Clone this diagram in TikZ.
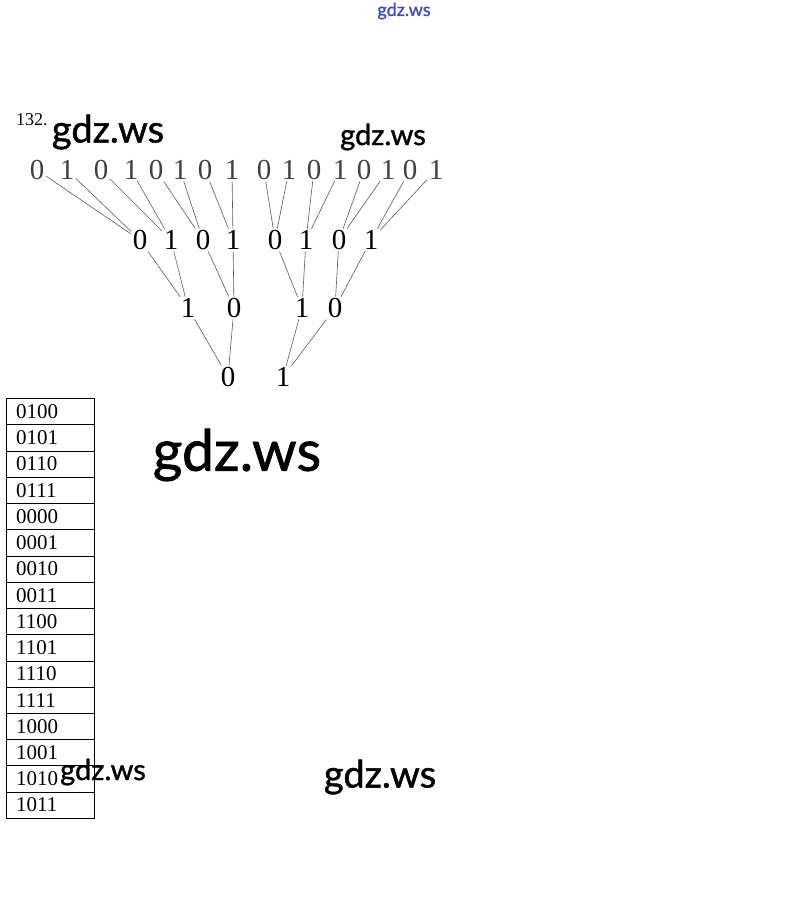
\documentclass[tikz,border=0pt]{standalone}
\usepackage{fontspec}
\newfontfamily\wmfont[FakeBold=1.2]{Lato}
\newfontfamily\digitfont{Liberation Serif}
\usetikzlibrary{shapes,positioning}
\definecolor{wmblue}{RGB}{70,70,205}
\tikzset{
digit/.style = {inner sep=1.5pt, font=\digitfont\fontsize{29}{29}\selectfont},
topdigit/.style = {inner sep=1.5pt, text=black!75, font=\digitfont\fontsize{29}{29}\selectfont},
link/.style = {draw, black!65, line width=0.6pt},
codebox/.style = {draw, rectangle split, rectangle split parts=16, rectangle split part align=left, minimum width=88pt, inner xsep=10pt, inner ysep=5.85pt, font=\digitfont\fontsize{21}{21}\selectfont, anchor=north west},
wmark/.style = {font=\wmfont\fontsize{#1}{#1}\selectfont}
}
\begin{document}
\begin{tikzpicture}[x=1pt, y=-1pt]
    \useasboundingbox (0,0) rectangle (808,920);

    \node [wmark=18, text=wmblue] (wm0) at (404,11) {gdz.ws};
    \node [anchor=west, font=\digitfont\fontsize{18}{18}\selectfont, inner sep=0pt] (num) at (16,120) {132.};

    % top row
    \node [topdigit] (t1) at (37,170) {0};
    \node [topdigit] (t2) at (67,170) {1};
    \node [topdigit] (t3) at (101,170) {0};
    \node [topdigit] (t4) at (131,170) {1};
    \node [topdigit] (t5) at (156,170) {0};
    \node [topdigit] (t6) at (180,170) {1};
    \node [topdigit] (t7) at (205,170) {0};
    \node [topdigit] (t8) at (232,170) {1};
    \node [topdigit] (t9) at (264,170) {0};
    \node [topdigit] (t10) at (289,170) {1};
    \node [topdigit] (t11) at (314,170) {0};
    \node [topdigit] (t12) at (340,170) {1};
    \node [topdigit] (t13) at (364,170) {0};
    \node [topdigit] (t14) at (388,170) {1};
    \node [topdigit] (t15) at (410,170) {0};
    \node [topdigit] (t16) at (436,170) {1};

    % second row
    \node [digit] (m1) at (140,240) {0};
    \node [digit] (m2) at (171,240) {1};
    \node [digit] (m3) at (203,240) {0};
    \node [digit] (m4) at (233,240) {1};
    \node [digit] (m5) at (275,240) {0};
    \node [digit] (m6) at (306,240) {1};
    \node [digit] (m7) at (339,240) {0};
    \node [digit] (m8) at (371,240) {1};

    % third row
    \node [digit] (h1) at (188,308) {1};
    \node [digit] (h2) at (234,308) {0};
    \node [digit] (h3) at (302,308) {1};
    \node [digit] (h4) at (335,308) {0};

    % last row
    \node [digit] (r1) at (228,377) {0};
    \node [digit] (r2) at (283,377) {1};

    \draw [link] (t1) -- (m1);
    \draw [link] (t2) -- (m1);
    \draw [link] (t3) -- (m2);
    \draw [link] (t4) -- (m2);
    \draw [link] (t5) -- (m3);
    \draw [link] (t6) -- (m3);
    \draw [link] (t7) -- (m4);
    \draw [link] (t8) -- (m4);
    \draw [link] (t9) -- (m5);
    \draw [link] (t10) -- (m5);
    \draw [link] (t11) -- (m6);
    \draw [link] (t12) -- (m6);
    \draw [link] (t13) -- (m7);
    \draw [link] (t14) -- (m7);
    \draw [link] (t15) -- (m8);
    \draw [link] (t16) -- (m8);

    \draw [link] (m1) -- (h1);
    \draw [link] (m2) -- (h1);
    \draw [link] (m3) -- (h2);
    \draw [link] (m4) -- (h2);
    \draw [link] (m5) -- (h3);
    \draw [link] (m6) -- (h3);
    \draw [link] (m7) -- (h4);
    \draw [link] (m8) -- (h4);

    \draw [link] (h1) -- (r1);
    \draw [link] (h2) -- (r1);
    \draw [link] (h3) -- (r2);
    \draw [link] (h4) -- (r2);

    % code table
    \node [codebox] (codes) at (6,398) {0100
       \nodepart{two}0101 \nodepart{three}0110 \nodepart{four}0111
       \nodepart{five}0000 \nodepart{six}0001 \nodepart{seven}0010
       \nodepart{eight}0011 \nodepart{nine}1100 \nodepart{ten}1101
       \nodepart{eleven}1110 \nodepart{twelve}1111 \nodepart{thirteen}1000
       \nodepart{fourteen}1001 \nodepart{fifteen}1010 \nodepart{sixteen}1011};

    % watermarks
    \node [wmark=38] (wm1) at (108,132) {gdz.ws};
    \node [wmark=29] (wm2) at (383,137) {gdz.ws};
    \node [wmark=57] (wm3) at (237,455) {gdz.ws};
    \node [wmark=29] (wm4) at (103,772) {gdz.ws};
    \node [wmark=38] (wm5) at (380,777) {gdz.ws};
\end{tikzpicture}
\end{document}
